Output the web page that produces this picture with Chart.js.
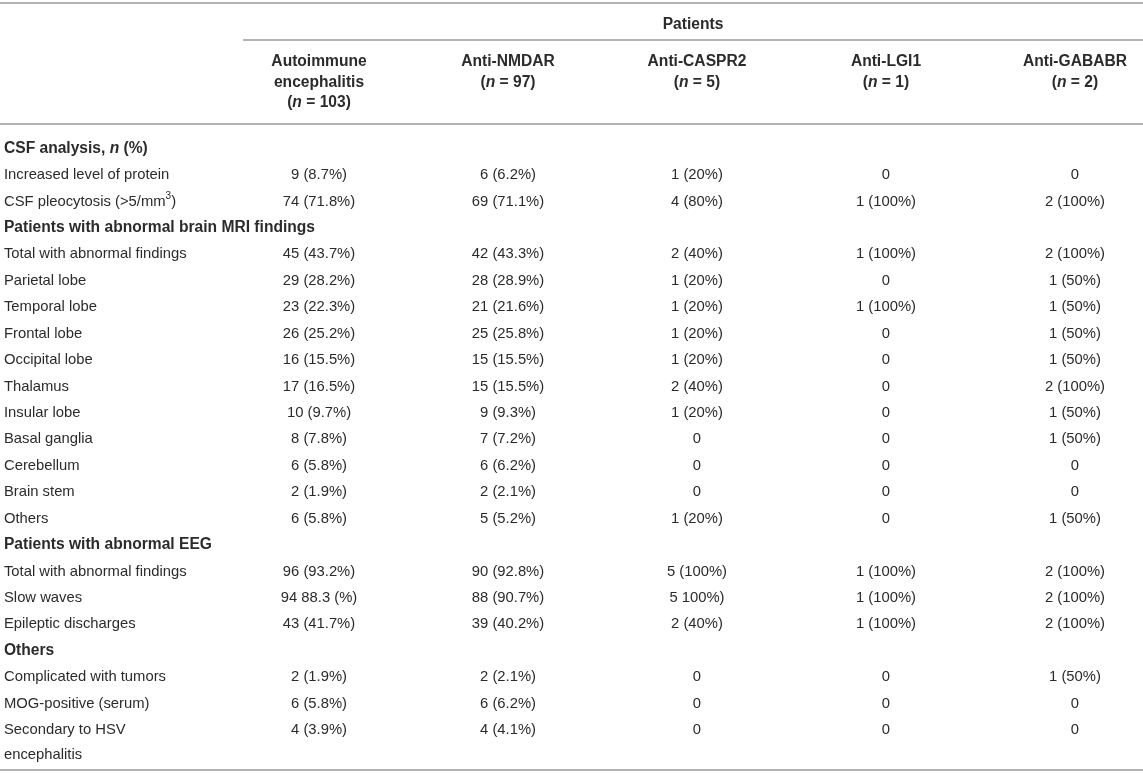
<!DOCTYPE html>
<html>
<head>
<meta charset="utf-8">
<script src="https://cdn.jsdelivr.net/npm/chart.js@4.4.1/dist/chart.umd.min.js"></script>
<style>
  html, body { margin: 0; padding: 0; background: #ffffff; }
  #wrap { width: 1143px; height: 773px; position: relative; }
</style>
</head>
<body>
<div id="wrap"><canvas id="c"></canvas></div>
<script>
// ---------- DATA ----------
const groupTitle = "Patients";
const columnNames = [["Autoimmune", "encephalitis"], ["Anti-NMDAR"], ["Anti-CASPR2"], ["Anti-LGI1"], ["Anti-GABABR"]];
const columnN = [103, 97, 5, 1, 2];

const rowLabels = [
  "CSF analysis, _n_ (%)",
  "Increased level of protein",
  "CSF pleocytosis (>5/mm^3^)",
  "Patients with abnormal brain MRI findings",
  "Total with abnormal findings",
  "Parietal lobe",
  "Temporal lobe",
  "Frontal lobe",
  "Occipital lobe",
  "Thalamus",
  "Insular lobe",
  "Basal ganglia",
  "Cerebellum",
  "Brain stem",
  "Others",
  "Patients with abnormal EEG",
  "Total with abnormal findings",
  "Slow waves",
  "Epileptic discharges",
  "Others",
  "Complicated with tumors",
  "MOG-positive (serum)",
  "Secondary to HSV\nencephalitis"
];
const sectionRows = [true, false, false, true, false, false, false, false, false, false, false, false, false, false, false, true, false, false, false, true, false, false, false];

const autoimmune = ["", "9 (8.7%)", "74 (71.8%)", "", "45 (43.7%)", "29 (28.2%)", "23 (22.3%)", "26 (25.2%)", "16 (15.5%)", "17 (16.5%)", "10 (9.7%)", "8 (7.8%)", "6 (5.8%)", "2 (1.9%)", "6 (5.8%)", "", "96 (93.2%)", "94 88.3 (%)", "43 (41.7%)", "", "2 (1.9%)", "6 (5.8%)", "4 (3.9%)"];
const antiNMDAR = ["", "6 (6.2%)", "69 (71.1%)", "", "42 (43.3%)", "28 (28.9%)", "21 (21.6%)", "25 (25.8%)", "15 (15.5%)", "15 (15.5%)", "9 (9.3%)", "7 (7.2%)", "6 (6.2%)", "2 (2.1%)", "5 (5.2%)", "", "90 (92.8%)", "88 (90.7%)", "39 (40.2%)", "", "2 (2.1%)", "6 (6.2%)", "4 (4.1%)"];
const antiCASPR2 = ["", "1 (20%)", "4 (80%)", "", "2 (40%)", "1 (20%)", "1 (20%)", "1 (20%)", "1 (20%)", "2 (40%)", "1 (20%)", "0", "0", "0", "1 (20%)", "", "5 (100%)", "5 100%)", "2 (40%)", "", "0", "0", "0"];
const antiLGI1 = ["", "0", "1 (100%)", "", "1 (100%)", "0", "1 (100%)", "0", "0", "0", "0", "0", "0", "0", "0", "", "1 (100%)", "1 (100%)", "1 (100%)", "", "0", "0", "0"];
const antiGABABR = ["", "0", "2 (100%)", "", "2 (100%)", "1 (50%)", "1 (50%)", "1 (50%)", "1 (50%)", "2 (100%)", "1 (50%)", "1 (50%)", "0", "0", "1 (50%)", "", "2 (100%)", "2 (100%)", "2 (100%)", "", "1 (50%)", "0", "0"];

const seriesValues = [autoimmune, antiNMDAR, antiCASPR2, antiLGI1, antiGABABR];

// ---------- LAYOUT (value space of the scales) ----------
const FONT = '"Liberation Sans", Arial, Helvetica, sans-serif';
const REG = 14.8, BOLD = 15.6;
const TEXT = '#2b2b2b';
const RULE = '#b3b3b3';
const TEXT_DY = 2;
const Y = { topRule: -5.43, groupTitle: -4.68, groupRule: -4.03, headFirst: -3.28, headStep: 0.775, headRule: -0.855, bottomRule: 23.59, wrapStep: 0.95 };
const X = { label: -1.667, groupRuleStart: -0.402 };

// ---------- rich text helper ----------
function parts(str) {
  return str.split(/(_[^_]+_|\^[^^]+\^)/).filter(s => s.length).map(s => {
    if (s[0] === '_' && s[s.length - 1] === '_') return { t: s.slice(1, -1), it: true };
    if (s[0] === '^' && s[s.length - 1] === '^') return { t: s.slice(1, -1), sup: true };
    return { t: s };
  });
}
function fontFor(p, bold) {
  const size = bold ? BOLD : REG;
  const sz = p.sup ? size * 0.68 : size;
  return (p.it ? 'italic ' : '') + (bold ? 'bold ' : '') + sz + 'px ' + FONT;
}
function richText(ctx, str, x, y, align, bold) {
  const ps = parts(str);
  let total = 0;
  ps.forEach(p => { ctx.font = fontFor(p, bold); p.w = ctx.measureText(p.t).width; total += p.w; });
  let cx = align === 'center' ? x - total / 2 : x;
  ctx.textAlign = 'left';
  ctx.textBaseline = 'middle';
  const yy = y + TEXT_DY;
  ps.forEach(p => {
    ctx.font = fontFor(p, bold);
    ctx.fillText(p.t, cx, p.sup ? yy - 5 : yy);
    cx += p.w;
  });
}

// ---------- datasets: one point per cell ----------
const datasets = seriesValues.map((vals, ci) => ({
  label: columnNames[ci].join(' '),
  data: vals.map((v, ri) => ({ x: ci, y: ri, text: v })),
  pointRadius: 0,
  pointHoverRadius: 0,
  borderWidth: 0,
  showLine: false
}));
datasets.push({
  label: 'rows',
  data: rowLabels.map((l, ri) => ({ x: X.label, y: ri, text: l, section: sectionRows[ri] })),
  pointRadius: 0, pointHoverRadius: 0, borderWidth: 0, showLine: false
});

const tablePlugin = {
  id: 'tablePlugin',
  afterDatasetsDraw(chart) {
    const ctx = chart.ctx;
    const xs = chart.scales.x, ys = chart.scales.y;
    const L = chart.chartArea.left, R = chart.chartArea.right;
    ctx.save();
    // rules
    ctx.strokeStyle = RULE;
    ctx.lineWidth = 2;
    const rule = (yv, x0, x1) => {
      const py = ys.getPixelForValue(yv);
      ctx.beginPath(); ctx.moveTo(x0, py); ctx.lineTo(x1, py); ctx.stroke();
    };
    rule(Y.topRule, L, R);
    const gx0 = xs.getPixelForValue(X.groupRuleStart);
    rule(Y.groupRule, gx0, R);
    rule(Y.headRule, L, R);
    rule(Y.bottomRule, L, R);

    ctx.fillStyle = TEXT;
    // group title
    richText(ctx, groupTitle, (gx0 + R) / 2, ys.getPixelForValue(Y.groupTitle), 'center', true);
    // column headers
    columnNames.forEach((lines, ci) => {
      const px = xs.getPixelForValue(ci);
      const all = lines.concat(['(_n_ = ' + columnN[ci] + ')']);
      all.forEach((ln, k) => {
        richText(ctx, ln, px, ys.getPixelForValue(Y.headFirst + k * Y.headStep), 'center', true);
      });
    });
    // cells
    chart.data.datasets.forEach((ds, di) => {
      const meta = chart.getDatasetMeta(di);
      meta.data.forEach((el, i) => {
        const d = ds.data[i];
        if (!d.text) return;
        const isLabel = ds.label === 'rows';
        const lines = d.text.split('\n');
        lines.forEach((ln, k) => {
          const py = ys.getPixelForValue(d.y + k * Y.wrapStep);
          richText(ctx, ln, el.x, py, isLabel ? 'left' : 'center', !!d.section);
        });
      });
    });
    ctx.restore();
  }
};

new Chart(document.getElementById('c'), {
  type: 'scatter',
  data: { datasets },
  options: {
    responsive: true,
    maintainAspectRatio: false,
    animation: false,
    events: [],
    layout: { padding: 0, autoPadding: false },
    plugins: { legend: { display: false }, tooltip: { enabled: false }, title: { display: false } },
    scales: {
      x: { type: 'linear', display: false, min: -1.688, max: 4.360 },
      y: { type: 'linear', display: false, reverse: true, min: -5.547, max: 23.70 }
    }
  },
  plugins: [tablePlugin]
});
</script>
</body>
</html>
